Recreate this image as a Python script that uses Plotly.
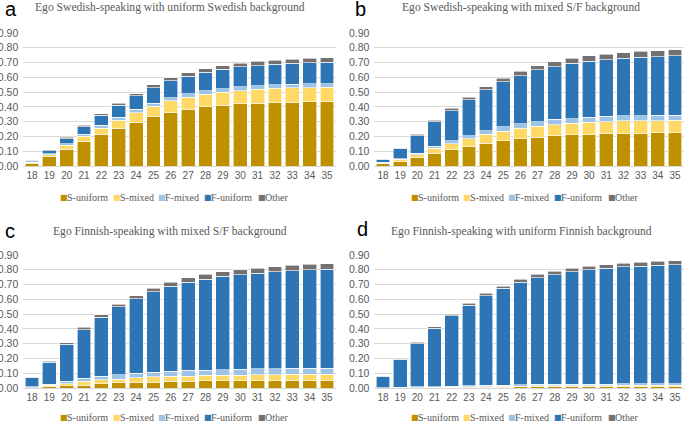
import plotly.graph_objects as go

W, H = 685, 422

ages = ["18", "19", "20", "21", "22", "23", "24", "25", "26",
        "27", "28", "29", "30", "31", "32", "33", "34", "35"]

series_names = ["S-uniform", "S-mixed", "F-mixed", "F-uniform", "Other"]
series_colors = ["#BF9000", "#FFD966", "#9DC3E6", "#2E75B6", "#767171"]

# a: Ego Swedish-speaking with uniform Swedish background
a_su = [0.020, 0.065, 0.115, 0.165, 0.215, 0.255, 0.295, 0.335, 0.365, 0.385, 0.400, 0.410, 0.420, 0.425, 0.430, 0.433, 0.435, 0.437]
a_sm = [0.005, 0.010, 0.025, 0.035, 0.040, 0.055, 0.065, 0.070, 0.075, 0.080, 0.085, 0.090, 0.090, 0.093, 0.095, 0.095, 0.095, 0.095]
a_fm = [0.003, 0.007, 0.010, 0.015, 0.020, 0.020, 0.025, 0.020, 0.022, 0.025, 0.025, 0.023, 0.025, 0.025, 0.025, 0.025, 0.025, 0.025]
a_fu = [0.009, 0.021, 0.035, 0.050, 0.068, 0.080, 0.090, 0.105, 0.116, 0.118, 0.125, 0.132, 0.135, 0.137, 0.140, 0.142, 0.145, 0.145]
a_ot = [0.003, 0.007, 0.010, 0.010, 0.012, 0.015, 0.015, 0.020, 0.019, 0.022, 0.022, 0.025, 0.025, 0.028, 0.027, 0.028, 0.028, 0.030]

# b: Ego Swedish-speaking with mixed S/F background
b_su = [0.015, 0.030, 0.055, 0.085, 0.110, 0.135, 0.155, 0.170, 0.185, 0.195, 0.205, 0.210, 0.215, 0.220, 0.220, 0.222, 0.225, 0.225]
b_sm = [0.005, 0.015, 0.020, 0.035, 0.040, 0.050, 0.060, 0.065, 0.070, 0.075, 0.075, 0.080, 0.080, 0.080, 0.085, 0.083, 0.082, 0.085]
b_fm = [0.005, 0.005, 0.010, 0.015, 0.020, 0.020, 0.025, 0.030, 0.030, 0.030, 0.035, 0.030, 0.035, 0.035, 0.035, 0.035, 0.035, 0.035]
b_fu = [0.020, 0.070, 0.120, 0.165, 0.205, 0.245, 0.275, 0.305, 0.325, 0.350, 0.355, 0.375, 0.380, 0.385, 0.390, 0.395, 0.398, 0.400]
b_ot = [0.005, 0.005, 0.010, 0.010, 0.015, 0.015, 0.020, 0.025, 0.030, 0.030, 0.035, 0.035, 0.035, 0.037, 0.037, 0.040, 0.040, 0.040]

# c: Ego Finnish-speaking with mixed S/F background
c_su = [0.002, 0.010, 0.015, 0.020, 0.030, 0.035, 0.040, 0.040, 0.045, 0.045, 0.048, 0.048, 0.050, 0.050, 0.050, 0.052, 0.052, 0.053]
c_sm = [0.001, 0.008, 0.015, 0.025, 0.025, 0.025, 0.030, 0.035, 0.035, 0.035, 0.037, 0.037, 0.038, 0.040, 0.040, 0.040, 0.040, 0.040]
c_fm = [0.005, 0.007, 0.015, 0.020, 0.025, 0.030, 0.030, 0.032, 0.035, 0.040, 0.035, 0.040, 0.040, 0.040, 0.040, 0.040, 0.040, 0.040]
c_fu = [0.064, 0.150, 0.250, 0.330, 0.400, 0.460, 0.505, 0.543, 0.575, 0.595, 0.615, 0.630, 0.639, 0.645, 0.655, 0.663, 0.668, 0.670]
c_ot = [0.003, 0.005, 0.010, 0.015, 0.015, 0.017, 0.020, 0.025, 0.027, 0.030, 0.035, 0.030, 0.033, 0.035, 0.035, 0.035, 0.036, 0.037]

# d: Ego Finnish-speaking with uniform Finnish background
d_su = [0.001, 0.001, 0.002, 0.002, 0.003, 0.004, 0.005, 0.006, 0.007, 0.008, 0.008, 0.008, 0.009, 0.009, 0.009, 0.009, 0.009, 0.010]
d_sm = [0.000, 0.001, 0.001, 0.002, 0.002, 0.004, 0.005, 0.006, 0.006, 0.006, 0.007, 0.007, 0.007, 0.007, 0.008, 0.008, 0.008, 0.008]
d_fm = [0.002, 0.003, 0.004, 0.006, 0.007, 0.007, 0.007, 0.008, 0.009, 0.010, 0.010, 0.010, 0.010, 0.011, 0.011, 0.011, 0.012, 0.012]
d_fu = [0.077, 0.185, 0.293, 0.395, 0.478, 0.545, 0.608, 0.655, 0.693, 0.721, 0.742, 0.760, 0.774, 0.783, 0.792, 0.797, 0.801, 0.805]
d_ot = [0.003, 0.005, 0.010, 0.010, 0.010, 0.015, 0.015, 0.015, 0.020, 0.025, 0.023, 0.025, 0.025, 0.025, 0.025, 0.027, 0.027, 0.027]

panels = [
    ("a", "Ego Swedish-speaking with uniform Swedish background", [a_su, a_sm, a_fm, a_fu, a_ot]),
    ("b", "Ego Swedish-speaking with mixed S/F background", [b_su, b_sm, b_fm, b_fu, b_ot]),
    ("c", "Ego Finnish-speaking with mixed S/F background", [c_su, c_sm, c_fm, c_fu, c_ot]),
    ("d", "Ego Finnish-speaking with uniform Finnish background", [d_su, d_sm, d_fm, d_fu, d_ot]),
]

# pixel boxes of each plot area: (left, right, top, bottom)
boxes = [
    (23.3, 335.7, 33, 166),
    (374.4, 683.6, 33, 166),
    (23.3, 335.7, 255, 388),
    (374.4, 683.6, 255, 388),
]
# panel letter, title and legend placement in pixels
letter_pos = [(3, 9), (353, 9), (3, 231), (355, 229)]
title_pos = [(170, 8), (521, 8), (170, 231), (521, 231)]
legend_x = [[59, 112, 157, 203, 257], [410, 462, 507, 553, 607],
            [59, 112, 157, 203, 257], [410, 462, 507, 553, 607]]
legend_y = [197, 197, 417, 417]


def px(x):
    return x / W


def py(y):
    return 1 - y / H


fig = go.Figure()
annotations = []
grid = "#D9D9D9"
tick_color = "#595959"

for i, (letter, title, data) in enumerate(panels):
    n = "" if i == 0 else str(i + 1)
    for name, color, vals in zip(series_names, series_colors, data):
        fig.add_trace(go.Bar(
            x=ages, y=vals, name=name, xaxis="x" + n, yaxis="y" + n,
            marker=dict(color=color, line=dict(color="white", width=0.6)),
            showlegend=False,
        ))
    l, r, t, b = boxes[i]
    fig.update_layout(**{
        "xaxis" + n: dict(
            domain=[px(l), px(r)], anchor="y" + n, type="category",
            automargin=False,
            showgrid=False, showline=True, linecolor=grid, linewidth=1,
            ticks="", tickfont=dict(family="Liberation Sans", size=10, color=tick_color),
            fixedrange=True,
        ),
        "yaxis" + n: dict(
            domain=[py(b), py(t)], anchor="x" + n, range=[0, 0.9],
            automargin=False,
            dtick=0.1, tickformat=".2f", showgrid=True, gridcolor=grid,
            gridwidth=1, zeroline=False, showline=False, ticks="",
            ticklabelstandoff=4,
            tickfont=dict(family="Liberation Sans", size=10.5, color=tick_color),
            fixedrange=True,
        ),
    })
    lx, ly = letter_pos[i]
    annotations.append(dict(
        text=letter, x=px(lx), y=py(ly), xref="paper", yref="paper",
        xanchor="left", yanchor="middle", showarrow=False,
        font=dict(family="Liberation Sans", size=20, color="black"),
    ))
    tx, ty = title_pos[i]
    annotations.append(dict(
        text=title, x=px(tx), y=py(ty), xref="paper", yref="paper",
        xanchor="center", yanchor="middle", showarrow=False,
        font=dict(family="Liberation Serif", size=11.6, color=tick_color),
    ))
    # legend: small square then label
    for name, color, x0 in zip(series_names, series_colors, legend_x[i]):
        annotations.append(dict(
            text="■", x=px(x0 - 1), y=py(legend_y[i]), xref="paper", yref="paper",
            xanchor="left", yanchor="middle", showarrow=False,
            font=dict(family="DejaVu Sans", size=8, color=color),
        ))
        annotations.append(dict(
            text=name, x=px(x0 + 6), y=py(legend_y[i]), xref="paper", yref="paper",
            xanchor="left", yanchor="middle", showarrow=False,
            font=dict(family="Liberation Serif", size=10, color=tick_color),
        ))

fig.update_layout(
    width=W, height=H,
    margin=dict(l=0, r=0, t=0, b=0),
    barmode="stack", bargap=0.2,
    paper_bgcolor="white", plot_bgcolor="white",
    annotations=annotations,
)

# drop the page's default body margin so the figure sits at the window corner
fig.write_html("out.html", config={"displayModeBar": False},
               post_script="document.body.style.margin='0';")
